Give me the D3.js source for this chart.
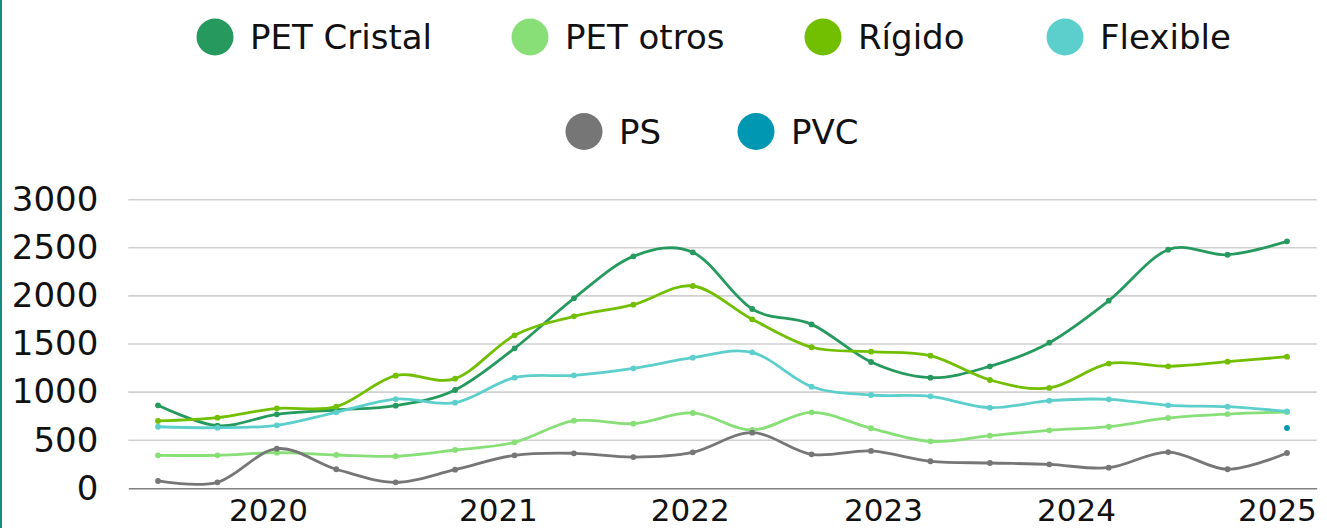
<!DOCTYPE html>
<html>
<head>
<meta charset="utf-8">
<script src="https://cdn.jsdelivr.net/npm/d3@7"></script>
<style>
  html, body { margin: 0; padding: 0; background: #fff; }
  svg { display: block; font-family: "DejaVu Sans", sans-serif; }
</style>
</head>
<body>
<svg id="chart" width="1327" height="528"></svg>
<script>
// data (20 periods, evenly spaced)
var petCristal = [863, 651, 769, 814, 859, 1022, 1455, 1975, 2411, 2453, 1864, 1704, 1313, 1150, 1268, 1514, 1950, 2480, 2428, 2567];
var petOtros   = [343, 343, 370, 346, 333, 398, 478, 703, 672, 783, 606, 790, 624, 488, 547, 603, 640, 731, 772, 793];
var rigido     = [700, 734, 831, 848, 1171, 1140, 1590, 1788, 1909, 2103, 1757, 1466, 1420, 1379, 1126, 1043, 1296, 1268, 1316, 1368];
var flexible   = [640, 630, 655, 790, 928, 890, 1150, 1174, 1247, 1358, 1413, 1056, 970, 956, 838, 911, 925, 863, 848, 800];
var ps         = [76, 62, 412, 198, 62, 194, 343, 364, 325, 374, 578, 353, 388, 281, 263, 249, 214, 377, 198, 367];
var pvc        = [null, null, null, null, null, null, null, null, null, null, null, null, null, null, null, null, null, null, null, 627];

var seriesNames = ["PET Cristal", "PET otros", "Rígido", "Flexible", "PS", "PVC"];
var seriesColors = ["#26995e", "#88df78", "#72be00", "#5ccfcc", "#767676", "#0097b2"];

var yTicks = [0, 500, 1000, 1500, 2000, 2500, 3000];
// year labels sit between periods, positions in period units
var xTickLabels = ["2020", "2021", "2022", "2023", "2024", "2025"];
var xTickPos = [1.85, 5.72, 8.95, 12.2, 15.45, 18.83];

(function(d3) {
	var svg = d3.select("#chart");
	var margin = {left: 128.3, right: 10.3, top: 199.7, bottom: 39.7};
	var width = 1327 - margin.left - margin.right,
		height = 528 - margin.top - margin.bottom;

	var allSeries = [petCristal, petOtros, rigido, flexible, ps, pvc];
	var n = petCristal.length;

	// left teal border
	svg.append("rect")
		.attr("x", 0).attr("y", 0)
		.attr("width", 2).attr("height", 528)
		.attr("fill", "#148c84");

	var g = svg.append("g").attr("transform", "translate(" + margin.left + "," + margin.top + ")");

	var x = d3.scaleLinear().domain([-0.5, n - 0.5]).range([0, width]);
	var y = d3.scaleLinear().domain([0, 3000]).range([height, 0]);

	// gridlines
	g.append("g")
		.selectAll("line")
		.data(yTicks.filter(function(t) { return t > 0; }))
		.enter().append("line")
		.attr("x1", 0).attr("x2", width)
		.attr("y1", function(d) { return y(d); })
		.attr("y2", function(d) { return y(d); })
		.attr("stroke", "#d0d0d0")
		.attr("stroke-width", 1.6);

	// y axis labels
	var yAxis = g.append("g")
		.call(d3.axisLeft(y).tickValues(yTicks).tickFormat(d3.format("d")).tickSize(0).tickPadding(30));
	yAxis.select(".domain").remove();
	yAxis.selectAll("text")
		.attr("font-size", 34)
		.attr("font-family", "DejaVu Sans, sans-serif")
		.attr("fill", "#111");

	// x axis
	var xAxis = g.append("g")
		.attr("transform", "translate(0," + height + ")")
		.call(d3.axisBottom(x).tickValues(xTickPos)
			.tickFormat(function(d, i) { return xTickLabels[i]; })
			.tickSize(0).tickPadding(11));
	xAxis.select(".domain")
		.attr("stroke", "#808080")
		.attr("stroke-width", 1.6);
	xAxis.selectAll("text")
		.attr("font-size", 31)
		.attr("font-family", "DejaVu Sans, sans-serif")
		.attr("fill", "#111");

	var line = d3.line()
		.defined(function(d) { return d != null; })
		.curve(d3.curveCardinal.tension(0))
		.x(function(d, i) { return x(i); })
		.y(function(d) { return y(d); });

	allSeries.forEach(function(vals, k) {
		var s = g.append("g").attr("class", "series");
		s.append("path")
			.attr("d", line(vals))
			.attr("fill", "none")
			.attr("stroke", seriesColors[k])
			.attr("stroke-width", 2.8);
		s.selectAll("circle")
			.data(vals.map(function(v, i) { return {v: v, i: i}; }).filter(function(d) { return d.v != null; }))
			.enter().append("circle")
			.attr("cx", function(d) { return x(d.i); })
			.attr("cy", function(d) { return y(d.v); })
			.attr("r", 2.9)
			.attr("fill", seriesColors[k]);
	});

	// legend, two centred rows
	var legendRows = [[0, 1, 2, 3], [4, 5]];
	var rowY = [37, 131.5];
	var itemX = [[215, 530, 823, 1065], [584, 756]];
	legendRows.forEach(function(row, r) {
		var lg = svg.selectAll(".legend-row" + r)
			.data(row)
			.enter().append("g")
			.attr("class", "legend-row" + r)
			.attr("transform", function(d, i) { return "translate(" + itemX[r][i] + "," + rowY[r] + ")"; });
		lg.append("circle")
			.attr("r", 18.5)
			.attr("fill", function(d) { return seriesColors[d]; });
		lg.append("text")
			.attr("x", 35)
			.attr("dy", "0.36em")
			.attr("font-size", 34)
			.attr("fill", "#111")
			.text(function(d) { return seriesNames[d]; });
	});
})(window.d3);
</script>
</body>
</html>
